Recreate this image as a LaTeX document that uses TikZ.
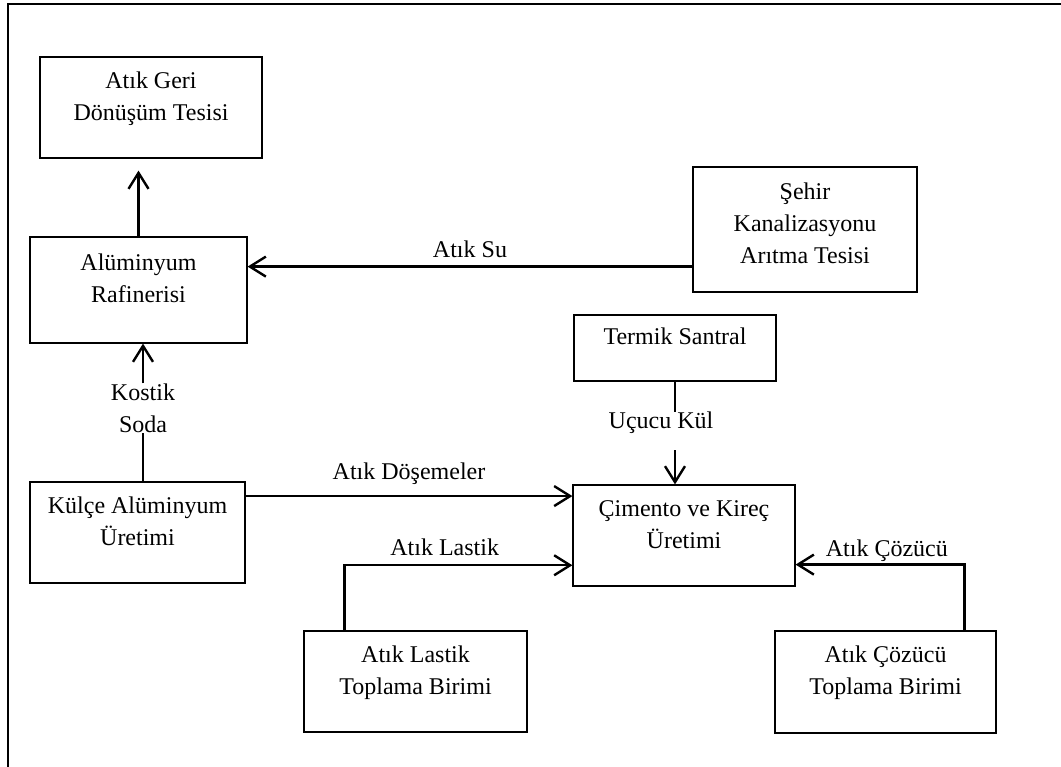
\documentclass[tikz,border=0pt]{standalone}
\usepackage{fontspec}
\setmainfont{Liberation Serif}
\usepackage{tikz}
\usetikzlibrary{arrows.meta}
\tikzset{>/.tip={Straight Barb[length=12pt,width=15pt]},
  box/.style={draw, line width=0.9pt, align=center, inner sep=0pt, text depth=17pt},
  flow/.style={line width=1.8pt},
  lbl/.style={inner sep=0pt, align=center}}

\begin{document}
\begin{tikzpicture}[x=0.75pt, y=-0.75pt, font=\fontsize{18}{24}\selectfont]
\useasboundingbox (0,0) rectangle (1061,767);
\draw[line width=1.2pt] (8,767) -- (8,4) -- (1061,4);
\node[box, minimum width=166.5pt, minimum height=75.75pt] (geri) at (151,107.5) {Atık Geri\\Dönüşüm Tesisi};
\node[box, minimum width=162.75pt, minimum height=79.5pt] (rafineri) at (138.5,290) {Alüminyum\\Rafinerisi};
\node[box, minimum width=168pt, minimum height=93.75pt, text depth=10pt] (kanal) at (805,229.5) {Şehir\\Kanalizasyonu\\Arıtma Tesisi};
\node[box, minimum width=151.5pt, minimum height=49.5pt] (termik) at (675,348) {Termik Santral};
\node[box, minimum width=166.5pt, minimum height=75.75pt] (cimento) at (684,535.5) {Çimento ve Kireç\\Üretimi};
\node[box, minimum width=161.25pt, minimum height=75.75pt] (kulce) at (137.5,532.5) {Külçe Alüminyum\\Üretimi};
\node[box, minimum width=167.25pt, minimum height=75.75pt] (lastik) at (415.5,681.5) {Atık Lastik\\Toplama Birimi};
\node[box, minimum width=165.75pt, minimum height=76.5pt] (cozucu) at (885.5,682) {Atık Çözücü\\Toplama Birimi};
\node[lbl] (kostik) at (143,408) {Kostik\\Soda};
\node[lbl] (ucucu) at (661,423) {Uçucu Kül};
% akislar
\draw[flow,->] (rafineri.north) -- (rafineri.north |- geri.south) [shorten >=9pt];
\draw[flow,->] ([yshift=19.5pt]kanal.south west) -- ([yshift=19.5pt]kanal.south west -| rafineri.east)
  node[lbl, midway, above=6pt] {Atık Su};
\draw[flow] (kostik.south |- kulce.north) -- (kostik.south);
\draw[flow,->] (kostik.north) -- (kostik.north |- rafineri.south);
\draw[flow] (termik.south) -- (termik.south |- ucucu.north);
\draw[flow,->,shorten <=12pt] (termik.south |- ucucu.south) -- (termik.south |- cimento.north);
\draw[flow,->] ([yshift=-11pt]kulce.north east) -- ([yshift=-11pt]kulce.north east -| cimento.west)
  node[lbl, midway, above=8pt] {Atık Döşemeler};
\draw[flow,->] ([xshift=30.75pt]lastik.north west) |- ([yshift=16pt]cimento.south west)
  node[lbl, pos=0.72, above=6pt] {Atık Lastik};
\draw[flow,->] ([xshift=-24pt]cozucu.north east) |- ([yshift=16.5pt]cimento.south east)
  node[lbl, pos=0.73, above=1pt] {Atık Çözücü};
\end{tikzpicture}
\end{document}
